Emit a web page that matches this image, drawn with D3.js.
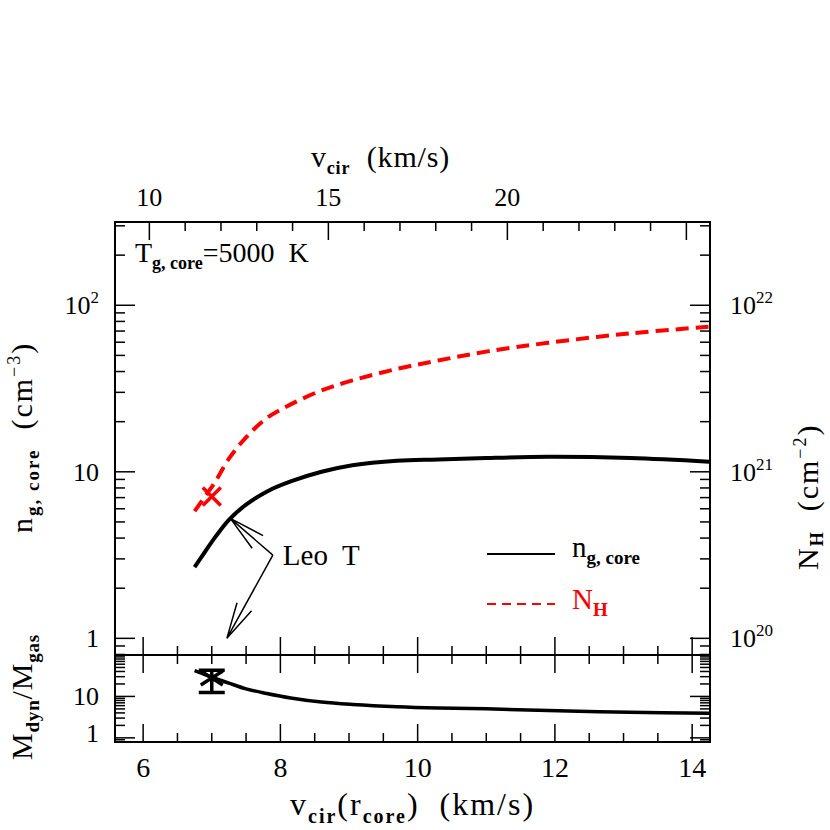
<!DOCTYPE html>
<html>
<head>
<meta charset="utf-8">
<script src="https://cdn.jsdelivr.net/npm/d3@7"></script>
<style>
  body { margin: 0; background: #fff; }
  text { font-family: "Liberation Serif", serif; fill: #000; }
</style>
</head>
<body>
<svg id="chart" width="830" height="830"></svg>
<script>
// values
const vCore  = [6.75, 6.9, 7.05, 7.25, 7.5, 7.8, 8.15, 8.6, 9.05, 9.7, 10.3, 11, 11.9, 13.1, 14.25]
const nCore  = [2.68, 3.3, 4.05, 5.15, 6.35, 7.6, 8.75, 10.0, 10.95, 11.65, 11.85, 12.1, 12.3, 12.1, 11.5]
const nHcol  = [5.8e20, 7.1e20, 8.7e20, 12.0e20, 16.1e20, 21.0e20, 25.4e20, 30.8e20, 35.4e20,
                41.5e20, 46.6e20, 52.7e20, 59.5e20, 67.8e20, 74.3e20]
const mRatio = [42, 33.8, 27.2, 21.0, 15.2, 11.8, 9.2, 7.3, 6.4, 5.64, 5.26, 5.01, 4.57, 4.14, 3.91]

// Leo T measurement
const leoV = 7.0
const leoNH = 7.1e20
const leoRatio = [12.5, 28, 43]   // low, mid, high

// tick labels
const topTicks = [10, 15, 20]
const bottomTicks = [6, 8, 10, 12, 14]
const leftTicks = [[1, ""], [10, ""], [10, "2"]]
const rightTicks = [[1e20, "20"], [1e21, "21"], [1e22, "22"]]
const ratioTicks = [1, 10]

const svg = d3.select("#chart")
const L = 115, R = 710, T = 222, MID = 655, B = 742

const x = d3.scaleLinear().domain([5.59, 14.26]).range([L, R])
const xTop = d3.scaleLinear().domain([9.04, 25.66]).range([L, R])
const y = d3.scaleLog().domain([Math.pow(10, -0.1), Math.pow(10, 2.5)]).range([MID, T])
const yR = d3.scaleLog().domain([Math.pow(10, 19.9), Math.pow(10, 22.5)]).range([MID, T])
const y2 = d3.scaleLog().domain([Math.pow(10, -0.1), 100]).range([B, MID])

const logTicks = (scale) => {
  const [lo, hi] = scale.domain()
  const out = []
  for (let e = Math.floor(Math.log10(lo)); e <= Math.ceil(Math.log10(hi)); e++) {
    for (let k = 1; k < 10; k++) {
      const v = k * Math.pow(10, e)
      if (v >= lo * 0.9999 && v <= hi * 1.0001) out.push({ v, major: k === 1 })
    }
  }
  return out
}

const linTicks = (lo, hi, step, majorEvery) => {
  const out = []
  for (let v = lo; v <= hi + 1e-9; v += step) {
    out.push({ v, major: Math.abs(v / majorEvery - Math.round(v / majorEvery)) < 1e-6 })
  }
  return out
}

const ticks = svg.append("g").attr("stroke", "#000").attr("stroke-width", 1.5)

// vertical log ticks, on a given x edge, dir = +1 (right) or -1 (left)
const yTickSet = (scale, xEdge, dir) => {
  ticks.append("g").selectAll("line")
    .data(logTicks(scale))
    .join("line")
    .attr("x1", xEdge)
    .attr("x2", d => xEdge + dir * (d.major ? 20 : 10))
    .attr("y1", d => scale(d.v))
    .attr("y2", d => scale(d.v))
}

const xTickSet = (scale, data, yEdge, dir) => {
  ticks.append("g").selectAll("line")
    .data(data)
    .join("line")
    .attr("x1", d => scale(d.v))
    .attr("x2", d => scale(d.v))
    .attr("y1", yEdge)
    .attr("y2", d => yEdge + dir * (d.major ? 18 : 9))
}

yTickSet(y, L, 1)
yTickSet(yR, R, -1)
yTickSet(y2, L, 1)
yTickSet(y2, R, -1)

const xt = linTicks(6, 14, 0.5, 2)
xTickSet(x, xt, MID, -1)
xTickSet(x, xt, MID, 1)
xTickSet(x, xt, B, -1)
xTickSet(xTop, linTicks(10, 25, 1, 5), T, 1)

// frames
svg.append("rect").attr("x", L).attr("y", T).attr("width", R - L).attr("height", MID - T)
  .attr("fill", "none").attr("stroke", "#000").attr("stroke-width", 2)
svg.append("rect").attr("x", L).attr("y", MID).attr("width", R - L).attr("height", B - MID)
  .attr("fill", "none").attr("stroke", "#000").attr("stroke-width", 2)

// tick labels
const numSize = 26
svg.append("g").selectAll("text")
  .data(topTicks)
  .join("text")
  .attr("x", d => xTop(d))
  .attr("y", 206)
  .attr("text-anchor", "middle")
  .attr("font-size", numSize)
  .text(d => d)

svg.append("g").selectAll("text")
  .data(bottomTicks)
  .join("text")
  .attr("x", d => x(d))
  .attr("y", 777)
  .attr("text-anchor", "middle")
  .attr("font-size", 28)
  .text(d => d)

const powText = (g, base, exp) => {
  g.text(base)
  if (exp) g.append("tspan").attr("dy", -11).attr("font-size", 17).text(exp)
}

svg.append("g").selectAll("text")
  .data(leftTicks)
  .join("text")
  .attr("x", 99)
  .attr("y", d => y(d[1] ? Math.pow(d[0], +d[1]) : d[0]) + 9)
  .attr("text-anchor", "end")
  .attr("font-size", numSize)
  .each(function (d) { powText(d3.select(this), d[0], d[1]) })

svg.append("g").selectAll("text")
  .data(rightTicks)
  .join("text")
  .attr("x", 730)
  .attr("y", d => yR(d[0]) + 9)
  .attr("font-size", numSize)
  .each(function (d) { powText(d3.select(this), 10, d[1]) })

svg.append("g").selectAll("text")
  .data(ratioTicks)
  .join("text")
  .attr("x", 99)
  .attr("y", d => y2(d) + (d === 1 ? 4 : 9))
  .attr("text-anchor", "end")
  .attr("font-size", numSize)
  .text(d => d)

// axis titles
const subText = (t, parts) => {
  parts.forEach(p => {
    const s = t.append("tspan").text(p.t)
    if (p.sub) s.attr("dy", p.sub).attr("font-size", p.size || 18).attr("font-weight", "bold")
    if (p.sup) s.attr("dy", p.sup).attr("font-size", p.size || 18)
    if (p.back) s.attr("dy", p.back)
    if (p.fill) s.style("fill", p.fill)
  })
}

const topTitle = svg.append("text").attr("x", 311).attr("y", 167).attr("font-size", 30)
  .attr("letter-spacing", 0.8).attr("xml:space", "preserve")
subText(topTitle, [{ t: "v" }, { t: "cir", sub: 7 }, { t: "  (km/s)", back: -7 }])

const botTitle = svg.append("text").attr("x", 290).attr("y", 815).attr("font-size", 32)
  .attr("letter-spacing", 2).attr("xml:space", "preserve")
subText(botTitle, [{ t: "v" }, { t: "cir", sub: 8, size: 20 }, { t: "(r", back: -8 },
  { t: "core", sub: 8, size: 20 }, { t: ")  (km/s)", back: -8 }])

const leftTitle = svg.append("text").attr("transform", "translate(32,533) rotate(-90)")
  .attr("font-size", 30).attr("letter-spacing", 2).attr("xml:space", "preserve")
subText(leftTitle, [{ t: "n" }, { t: "g, core", sub: 7, size: 19 }, { t: "  (cm", back: -7 },
  { t: "−3", sup: -12, size: 18 }, { t: ")", back: 12 }])

const rightTitle = svg.append("text").attr("transform", "translate(818,570) rotate(-90)")
  .attr("font-size", 30).attr("letter-spacing", 2).attr("xml:space", "preserve")
subText(rightTitle, [{ t: "N" }, { t: "H", sub: 5, size: 18 }, { t: "  (cm", back: -5 },
  { t: "−2", sup: -12, size: 18 }, { t: ")", back: 12 }])

const ratioTitle = svg.append("text").attr("transform", "translate(32,760) rotate(-90)")
  .attr("font-size", 30).attr("letter-spacing", 0.8)
subText(ratioTitle, [{ t: "M" }, { t: "dyn", sub: 7, size: 19 }, { t: "/M", back: -7 }, { t: "gas", sub: 7, size: 19 }])

const tLabel = svg.append("text").attr("x", 135).attr("y", 262).attr("font-size", 28)
  .attr("xml:space", "preserve")
subText(tLabel, [{ t: "T" }, { t: "g, core", sub: 7 }, { t: "=5000  K", back: -7 }])

// curves
const line = (ys, scale) => d3.line()
  .x((d, i) => x(vCore[i]))
  .y(d => scale(d))
  .curve(d3.curveCatmullRom.alpha(0.5))(ys)

svg.append("path").attr("d", line(nHcol, yR))
  .attr("fill", "none").attr("stroke", "#ff0000").attr("stroke-width", 4)
  .attr("stroke-dasharray", "13,7")

svg.append("path").attr("d", line(nCore, y))
  .attr("fill", "none").attr("stroke", "#000").attr("stroke-width", 4)

svg.append("path").attr("d", line(mRatio, y2))
  .attr("fill", "none").attr("stroke", "#000").attr("stroke-width", 3.5)

// Leo T points
const cx = x(leoV), cy = yR(leoNH), s = 9
svg.append("path")
  .attr("d", `M${cx - s},${cy - s}L${cx + s},${cy + s}M${cx - s},${cy + s}L${cx + s},${cy - s}`)
  .attr("stroke", "#ff0000").attr("stroke-width", 3.5)

const ex = x(leoV), eLo = y2(leoRatio[0]), eMid = y2(leoRatio[1]), eHi = y2(leoRatio[2])
svg.append("path")
  .attr("d", `M${ex},${eLo}L${ex},${eHi}M${ex - 13},${eLo}L${ex + 13},${eLo}M${ex - 13},${eHi}L${ex + 13},${eHi}` +
    `M${ex - 11},${eMid - 7}L${ex + 11},${eMid + 7}M${ex - 11},${eMid + 7}L${ex + 11},${eMid - 7}`)
  .attr("stroke", "#000").attr("stroke-width", 3.5).attr("fill", "none")

// Leo T label with arrows
const labelAt = [x(7.89), y(3.16)]
const arrowTips = [[x(7.27), y(5.25)], [x(7.22), y(1.0)]]
const ann = svg.append("g").attr("stroke", "#000").attr("stroke-width", 1.5).attr("fill", "none")
arrowTips.forEach(([tx, ty]) => {
  const a = Math.atan2(labelAt[1] - ty, labelAt[0] - tx)
  const len = 37, w = 13 * Math.PI / 180
  ann.append("path").attr("d",
    `M${labelAt[0]},${labelAt[1]}L${tx},${ty}` +
    `M${tx + len * Math.cos(a - w)},${ty + len * Math.sin(a - w)}L${tx},${ty}` +
    `L${tx + len * Math.cos(a + w)},${ty + len * Math.sin(a + w)}`)
})
svg.append("text").attr("x", labelAt[0] + 10).attr("y", labelAt[1] + 10)
  .attr("font-size", 29).attr("xml:space", "preserve").text("Leo  T")

// legend
svg.append("line").attr("x1", 487).attr("x2", 555).attr("y1", 554).attr("y2", 554)
  .attr("stroke", "#000").attr("stroke-width", 2)
const lg1 = svg.append("text").attr("x", 572).attr("y", 557).attr("font-size", 29)
subText(lg1, [{ t: "n" }, { t: "g, core", sub: 7, size: 19 }])

svg.append("line").attr("x1", 487).attr("x2", 555).attr("y1", 604).attr("y2", 604)
  .attr("stroke", "#ff0000").attr("stroke-width", 2).attr("stroke-dasharray", "9,6")
const lg2 = svg.append("text").attr("x", 572).attr("y", 609).attr("font-size", 29).style("fill", "#ff0000")
subText(lg2, [{ t: "N", fill: "#ff0000" }, { t: "H", sub: 7, size: 19, fill: "#ff0000" }])
</script>
</body>
</html>
